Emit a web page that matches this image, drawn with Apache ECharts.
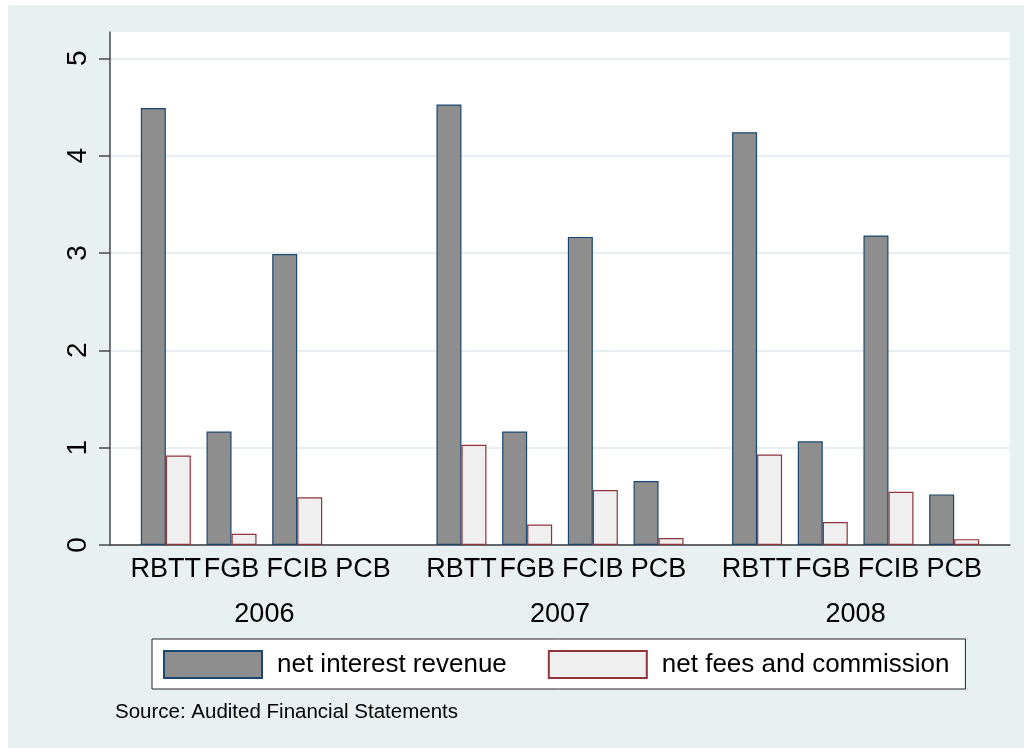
<!DOCTYPE html>
<html>
<head>
<meta charset="utf-8">
<script src="https://cdn.jsdelivr.net/npm/echarts@6/dist/echarts.min.js"></script>
<style>
  html, body { margin: 0; padding: 0; background: #fff; }
  #bg { position: absolute; left: 8px; top: 5px; width: 1016px; height: 743px; background: #e8f0f2; }
  #chart { position: absolute; left: 0; top: 0; width: 1024px; height: 748px; }
</style>
</head>
<body>
<div id="bg"></div>
<div id="chart"></div>
<script>
const banks = ['RBTT', 'FGB', 'FCIB', 'PCB'];
const years = ['2006', '2007', '2008'];
// one value per bank per year, 2006 first
const netInterest = [4.49, 1.165, 2.99, null, 4.525, 1.165, 3.165, 0.657, 4.24, 1.065, 3.18, 0.52];
const netFees = [0.92, 0.116, 0.49, null, 1.03, 0.21, 0.565, 0.072, 0.93, 0.236, 0.547, 0.06];
const yTicks = [0, 1, 2, 3, 4, 5];

const font = 'Liberation Sans';

// slot of each bank on the x axis: half a slot of space between years
const slots = [];
years.forEach((y, g) => banks.forEach((b, i) => slots.push(g * 4.5 + i)));
const bankLabels = years.map(() => banks).flat();
const yearSlots = years.map((y, g) => g * 4.5 + 1.5);

const chart = echarts.init(document.getElementById('chart'));

chart.setOption({
  animation: false,
  title: {
    text: 'Source: Audited Financial Statements',
    left: 115,
    top: 702,
    padding: 0,
    textStyle: { fontFamily: font, fontSize: 20.5, fontWeight: 'normal', color: '#000' }
  },
  legend: {
    left: 152,
    top: 639,
    icon: 'rect',
    itemWidth: 98,
    itemHeight: 27,
    itemGap: 41,
    padding: [11, 16, 10, 11],
    backgroundColor: '#fff',
    borderColor: '#222',
    borderWidth: 1,
    textStyle: { fontFamily: font, fontSize: 26, color: '#000', padding: [0, 0, 0, 10] }
  },
  grid: {
    left: 110,
    right: 14,
    top: 32,
    bottom: 203,
    show: true,
    backgroundColor: '#fff',
    borderWidth: 0
  },
  xAxis: [
    {
      type: 'value',
      min: -0.85,
      max: 12.85,
      axisLine: { show: true, onZero: false, lineStyle: { color: '#3a3a3a', width: 1.5 } },
      axisTick: { show: false },
      splitLine: { show: false },
      axisLabel: {
        customValues: slots,
        formatter: v => bankLabels[slots.indexOf(v)] || '',
        fontFamily: font,
        fontSize: 27,
        color: '#000',
        margin: 11
      }
    },
    {
      type: 'value',
      position: 'bottom',
      offset: 45,
      min: -0.85,
      max: 12.85,
      axisLine: { show: false },
      axisTick: { show: false },
      splitLine: { show: false },
      axisLabel: {
        customValues: yearSlots,
        formatter: v => years[yearSlots.indexOf(v)] || '',
        fontFamily: font,
        fontSize: 27,
        color: '#000',
        margin: 11
      }
    }
  ],
  yAxis: {
    type: 'value',
    min: 0,
    max: 5.27,
    interval: 1,
    axisLine: { show: true, onZero: false, lineStyle: { color: '#4a4a4a', width: 1.5 } },
    axisTick: { show: true, length: 11, customValues: yTicks, lineStyle: { color: '#4a4a4a', width: 1.5 } },
    axisLabel: {
      customValues: yTicks,
      rotate: 90,
      margin: 18,
      fontFamily: font,
      fontSize: 28,
      color: '#000'
    },
    splitLine: { show: true, lineStyle: { color: '#e6eef1', width: 2 } }
  },
  series: [
    {
      name: 'net interest revenue',
      type: 'bar',
      xAxisIndex: 0,
      barWidth: 25,
      barGap: '0%',
      data: slots.map((x, i) => [x, netInterest[i]]),
      itemStyle: { color: '#8e8e8e', borderColor: '#1a476f', borderWidth: 1.2 }
    },
    {
      name: 'net fees and commission',
      type: 'bar',
      xAxisIndex: 0,
      barWidth: 25,
      barGap: '0%',
      data: slots.map((x, i) => [x, netFees[i]]),
      itemStyle: { color: '#efefef', borderColor: '#90353b', borderWidth: 1.2 }
    }
  ]
});
</script>
</body>
</html>
